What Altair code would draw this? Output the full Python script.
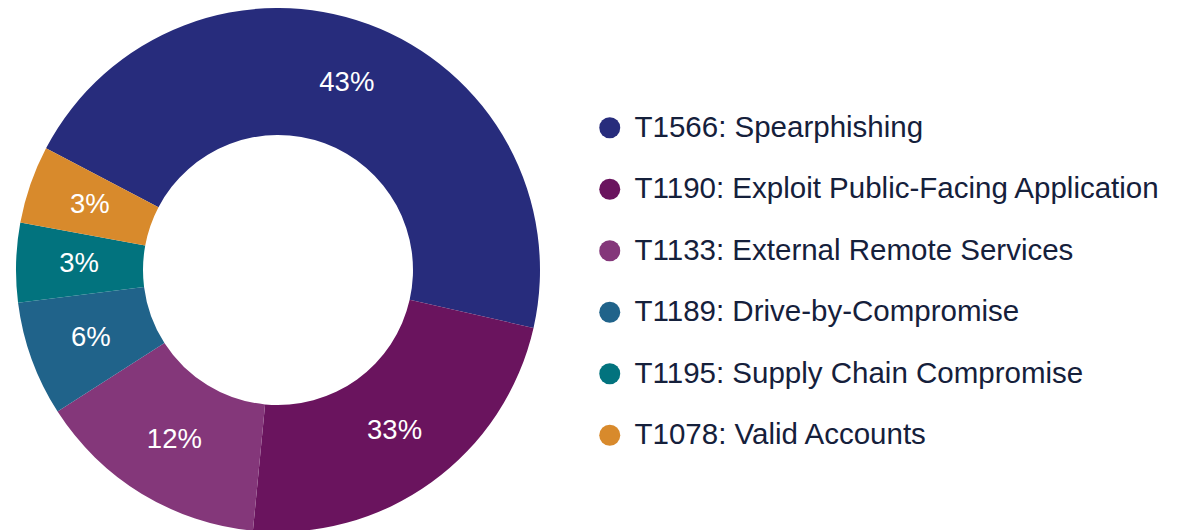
import math
import altair as alt
import pandas as pd

categories = [
    "T1566: Spearphishing",
    "T1190: Exploit Public-Facing Application",
    "T1133: External Remote Services",
    "T1189: Drive-by-Compromise",
    "T1195: Supply Chain Compromise",
    "T1078: Valid Accounts",
]
# slice sizes as drawn in the picture (degrees of arc / 3.6)
shares = [45.9, 23.0, 14.4, 7.1, 4.9, 4.8]
# printed labels
labels = ["43%", "33%", "12%", "6%", "3%", "3%"]
colors = ["#272c7c", "#6a145e", "#84377a", "#20638a", "#02737e", "#d88a2c"]

df = pd.DataFrame({
    "technique": categories,
    "share": shares,
    "label": labels,
    "order": list(range(len(categories))),
})

start = math.radians(297.7)
theta = alt.Theta("share:Q", stack=True,
                  scale=alt.Scale(range=[start, start + 2 * math.pi]))

arc = alt.Chart(df).mark_arc(innerRadius=135, outerRadius=262).encode(
    theta=theta,
    order=alt.Order("order:Q"),
    color=alt.Color(
        "technique:N",
        sort=categories,
        scale=alt.Scale(domain=categories, range=colors),
        legend=alt.Legend(
            title=None,
            orient="none",
            legendX=587,
            legendY=103,
            symbolType="circle",
            symbolSize=441,
            symbolStrokeWidth=0,
            labelFontSize=29.5,
            labelFont="Liberation Sans",
            labelColor="#15203b",
            labelOffset=10,
            labelLimit=0,
            rowPadding=30.5,
            padding=0,
        ),
    ),
)

text = alt.Chart(df).mark_text(
    radius=199, fontSize=27.5, font="Liberation Sans", color="white"
).encode(
    theta=theta,
    order=alt.Order("order:Q"),
    text="label:N",
)

chart = alt.layer(arc, text).properties(
    width=540, height=520, padding=0
).configure_view(stroke=None)

chart.save("out.html", embed_options={"renderer": "svg", "actions": False})
